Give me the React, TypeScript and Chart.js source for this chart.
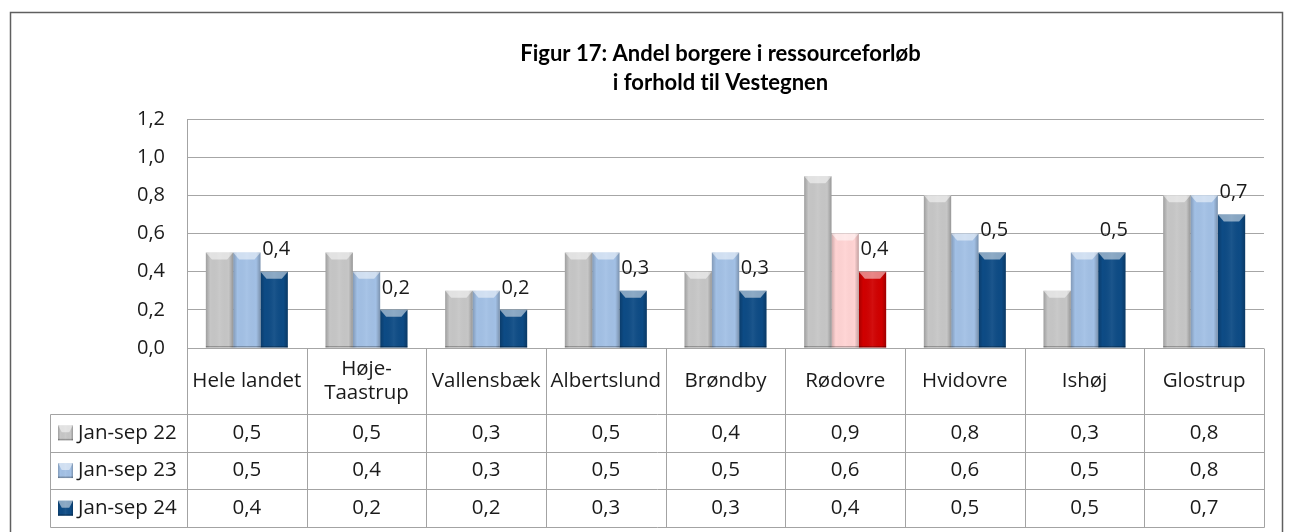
import React, { useEffect, useRef } from "react";
import { Chart, registerables } from "chart.js";

Chart.register(...registerables);

const titleLines = ["Figur 17: Andel borgere i ressourceforløb", "i forhold til Vestegnen"];
const categories: (string | string[])[] = [
  "Hele landet",
  ["Høje-", "Taastrup"],
  "Vallensbæk",
  "Albertslund",
  "Brøndby",
  "Rødovre",
  "Hvidovre",
  "Ishøj",
  "Glostrup",
];
const seriesNames = ["Jan-sep 22", "Jan-sep 23", "Jan-sep 24"];
const janSep22 = [0.5, 0.5, 0.3, 0.5, 0.4, 0.9, 0.8, 0.3, 0.8];
const janSep23 = [0.5, 0.4, 0.3, 0.5, 0.5, 0.6, 0.6, 0.5, 0.8];
const janSep24 = [0.4, 0.2, 0.2, 0.3, 0.3, 0.4, 0.5, 0.5, 0.7];
const yMin = 0;
const yMax = 1.2;
const yStep = 0.2;
const highlightCategory = "Rødovre";

const seriesColors = ["#C6C6C6", "#A2C0E5", "#0D4B85"];
const highlightColors = ["#C6C6C6", "#FFD3D3", "#D00000"];
const FONT = "'Open Sans', 'DejaVu Sans', sans-serif";

const fmt = (v: number) => v.toFixed(1).replace(".", ",");

const catName = (c: string | string[]) => (Array.isArray(c) ? c.join("") : c);

function drawBevel(ctx: CanvasRenderingContext2D, x0: number, y: number, w: number, h: number) {
  const x1 = x0 + w;
  const g = ctx.createLinearGradient(x0, 0, x1, 0);
  g.addColorStop(0, "rgba(0,0,0,0.20)");
  g.addColorStop(0.16, "rgba(0,0,0,0)");
  g.addColorStop(0.5, "rgba(255,255,255,0.06)");
  g.addColorStop(0.84, "rgba(0,0,0,0)");
  g.addColorStop(1, "rgba(0,0,0,0.24)");
  ctx.fillStyle = g;
  ctx.fillRect(x0, y, w, h);
  const bev = Math.min(7, h / 2);
  const inset = Math.min(6, w / 4);
  ctx.beginPath();
  ctx.moveTo(x0, y);
  ctx.lineTo(x1, y);
  ctx.lineTo(x1 - inset, y + bev);
  ctx.lineTo(x0 + inset, y + bev);
  ctx.closePath();
  ctx.fillStyle = "rgba(255,255,255,0.5)";
  ctx.fill();
  ctx.fillStyle = "rgba(0,0,0,0.25)";
  ctx.fillRect(x0, y + h - 1.5, w, 1.5);
}

const tablePlugin = {
  id: "excelTable",
  beforeDraw(chart: any) {
    const ctx: CanvasRenderingContext2D = chart.ctx;
    const { chartArea } = chart;
    ctx.save();
    ctx.fillStyle = "#ffffff";
    ctx.fillRect(0, 0, chart.width, chart.height);
    ctx.strokeStyle = "#5f5f5f";
    ctx.lineWidth = 1.5;
    ctx.strokeRect(10.5, 12.5, chart.width - 18, chart.height + 40);
    ctx.fillStyle = "#000000";
    ctx.font = `bold 22px Lato, sans-serif`;
    (ctx as any).letterSpacing = "0.01px";
    ctx.textAlign = "center";
    ctx.textBaseline = "middle";
    const cx = (chartArea.left + chartArea.right) / 2 - 5;
    titleLines.forEach((t, i) => ctx.fillText(t, cx, 54 + i * 29));
    (ctx as any).letterSpacing = "0px";
    ctx.restore();
  },
  afterDatasetsDraw(chart: any) {
    const ctx: CanvasRenderingContext2D = chart.ctx;
    ctx.save();
    chart.data.datasets.forEach((ds: any, di: number) => {
      const meta = chart.getDatasetMeta(di);
      meta.data.forEach((bar: any, i: number) => {
        const { x, y, base, width } = bar.getProps(["x", "y", "base", "width"], true);
        drawBevel(ctx, x - width / 2, y, width, base - y);
        if (di === 2) {
          ctx.fillStyle = "#1a1a1a";
          ctx.font = `20px ${FONT}`;
          ctx.textAlign = "center";
          ctx.textBaseline = "middle";
          ctx.fillText(fmt(ds.data[i]), x + 2, y - 22);
        }
      });
    });
    ctx.restore();
  },
  afterDraw(chart: any) {
    const ctx: CanvasRenderingContext2D = chart.ctx;
    const { chartArea } = chart;
    const xs = chart.scales.x;
    const n = categories.length;
    const step = n > 1 ? xs.getPixelForValue(1) - xs.getPixelForValue(0) : chartArea.width;
    const bounds = [] as number[];
    for (let i = 0; i < n; i++) bounds.push(xs.getPixelForValue(i) - step / 2);
    bounds.push(xs.getPixelForValue(n - 1) + step / 2);
    const top = chartArea.bottom;
    const headerH = 66;
    const rowH = 37.7;
    const legendLeft = 50;
    const rowsTop = top + headerH;
    const bottom = rowsTop + rowH * seriesNames.length;

    ctx.save();
    ctx.strokeStyle = "#a3a3a3";
    ctx.lineWidth = 1;
    const ln = (x1: number, y1: number, x2: number, y2: number) => {
      ctx.beginPath();
      ctx.moveTo(Math.round(x1) + 0.5, Math.round(y1) + 0.5);
      ctx.lineTo(Math.round(x2) + 0.5, Math.round(y2) + 0.5);
      ctx.stroke();
    };
    bounds.forEach((b) => ln(b, top, b, bottom));
    ln(legendLeft, rowsTop, legendLeft, bottom);
    for (let r = 0; r <= seriesNames.length; r++) {
      ln(legendLeft, rowsTop + r * rowH, bounds[n], rowsTop + r * rowH);
    }

    ctx.fillStyle = "#1a1a1a";
    ctx.font = `20.5px ${FONT}`;
    ctx.textAlign = "center";
    ctx.textBaseline = "middle";
    categories.forEach((c, i) => {
      const cx = xs.getPixelForValue(i);
      const lines = Array.isArray(c) ? c : [c];
      const lh = 24;
      const cy = top + headerH / 2 - ((lines.length - 1) * lh) / 2;
      lines.forEach((l, k) => ctx.fillText(l, cx, cy + k * lh));
    });

    const datasets = chart.data.datasets;
    seriesNames.forEach((name, r) => {
      const cy = rowsTop + r * rowH + rowH / 2;
      const mx = legendLeft + 8;
      const ms = 15;
      ctx.fillStyle = seriesColors[r];
      ctx.fillRect(mx, cy - ms / 2, ms, ms);
      drawBevel(ctx, mx, cy - ms / 2, ms, ms);
      ctx.fillStyle = "#1a1a1a";
      ctx.font = `20.5px ${FONT}`;
      ctx.textAlign = "left";
      ctx.fillText(name, mx + ms + 5, cy);
      ctx.textAlign = "center";
      datasets[r].data.forEach((v: number, i: number) => {
        ctx.fillText(fmt(v), xs.getPixelForValue(i), cy);
      });
    });
    ctx.restore();
  },
};

export default function App() {
  const ref = useRef<HTMLCanvasElement | null>(null);
  useEffect(() => {
    document.body.style.margin = "0";
    if (!ref.current) return;
    const colorFor = (si: number) =>
      categories.map((c) => (catName(c) === catName(highlightCategory) ? highlightColors[si] : seriesColors[si]));
    const chart = new Chart(ref.current, {
      type: "bar",
      data: {
        labels: categories.map(catName),
        datasets: [janSep22, janSep23, janSep24].map((d, si) => ({
          label: seriesNames[si],
          data: d,
          backgroundColor: colorFor(si),
          borderWidth: 0,
          categoryPercentage: 0.685,
          barPercentage: 1.0,
        })),
      },
      options: {
        animation: false,
        responsive: false,
        maintainAspectRatio: false,
        layout: { padding: { left: 0, top: 119, right: 26, bottom: 184 } },
        plugins: { legend: { display: false }, title: { display: false }, tooltip: { enabled: false } },
        scales: {
          x: { display: false },
          y: {
            min: yMin,
            max: yMax,
            border: { display: true, color: "#a3a3a3" },
            grid: { color: "#a6a6a6", drawTicks: false, lineWidth: 1 },
            ticks: {
              stepSize: yStep,
              padding: 22,
              color: "#1a1a1a",
              font: { size: 20, family: FONT },
              callback: (v: any) => fmt(Number(v)),
            },
            afterFit: (s: any) => {
              s.width = 187;
            },
          },
        },
      },
      plugins: [tablePlugin],
    });
    return () => chart.destroy();
  }, []);
  return <canvas ref={ref} width={1290} height={532} style={{ display: "block" }} />;
}
